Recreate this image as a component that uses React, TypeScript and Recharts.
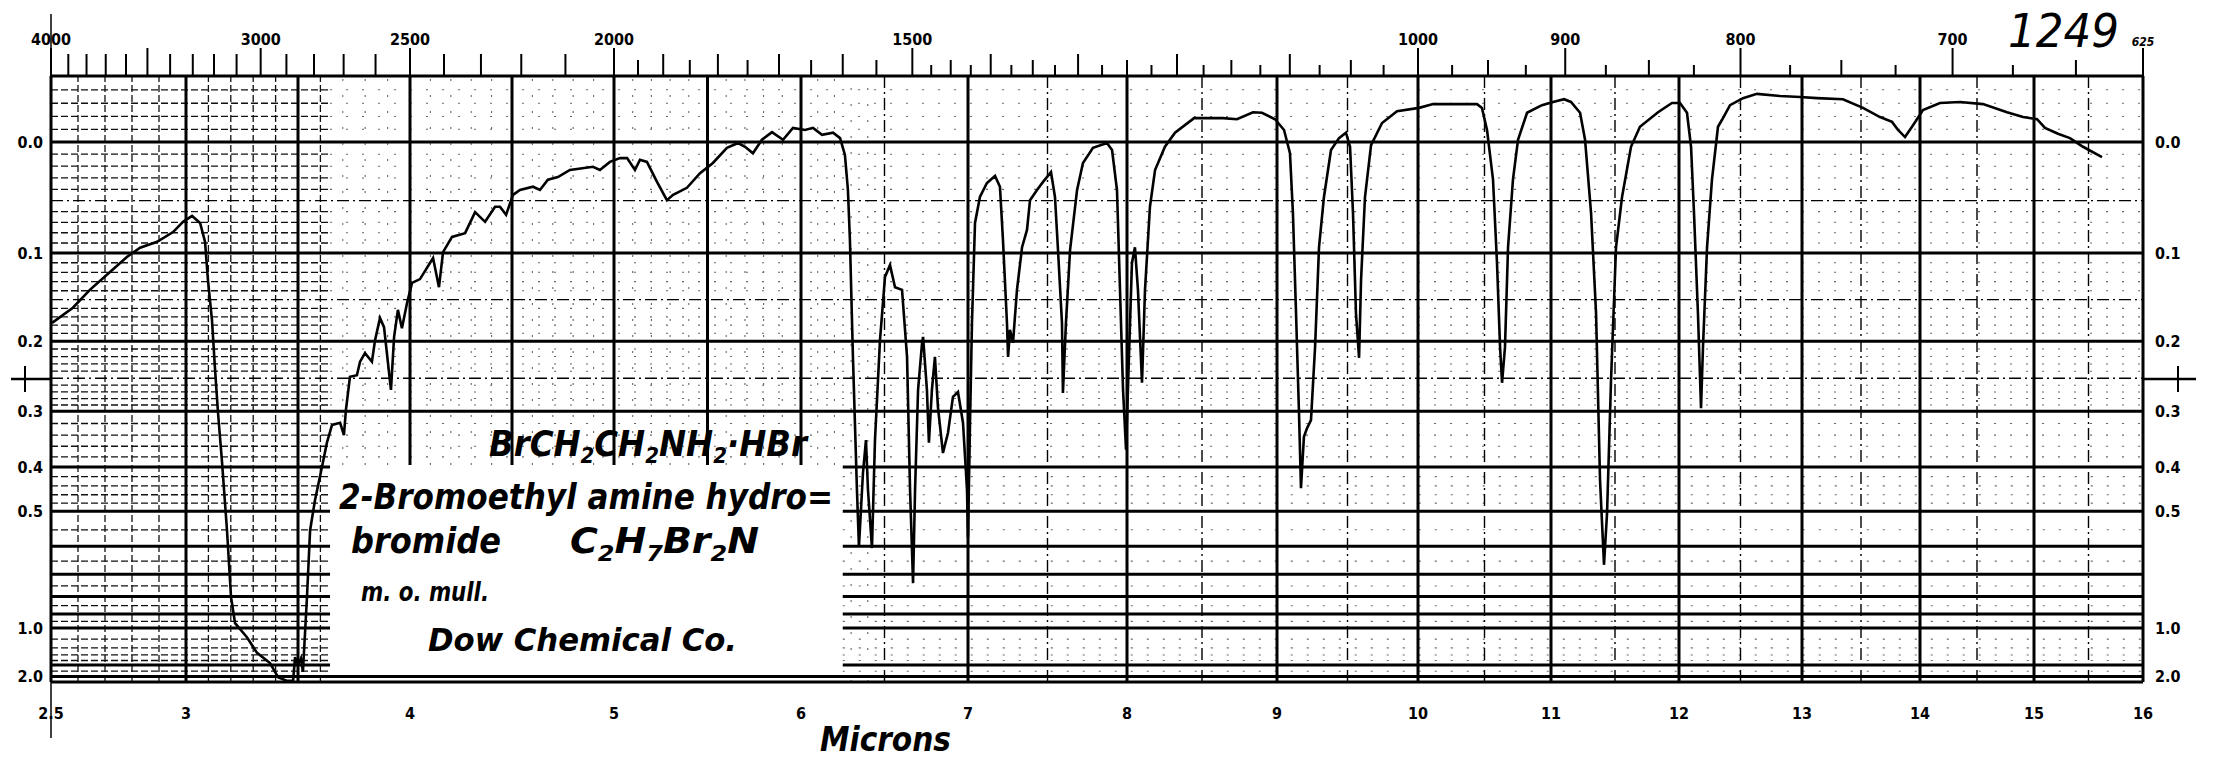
import React from 'react';
import { ComposedChart, Line, XAxis, YAxis, ReferenceLine } from 'recharts';

// ---- axis definitions ----
const MICRON_LABELS = [2.5, 3, 4, 5, 6, 7, 8, 9, 10, 11, 12, 13, 14, 15, 16];
// width of each micron interval on the paper (the abscissa is not linear)
const MICRON_SPACING = [135, 224, 204, 187, 167, 159, 150, 141, 133, 128, 123, 118, 114, 109];
const WAVENUMBER_LABELS = [4000, 3000, 2500, 2000, 1500, 1000, 900, 800, 700, 625];
const ABSORBANCE_LABELS = [0.0, 0.1, 0.2, 0.3, 0.4, 0.5, 1.0, 2.0];

const HEAVY_ABS = [0, 0.1, 0.2, 0.3, 0.4, 0.5, 0.6, 0.7, 0.8, 0.9, 1.0, 1.5, 2.0];
const DASHDOT_ABS = [0.05, 0.15, 0.25];
const FINE_ABS = [-0.04, -0.03, -0.02, -0.01, 0.01, 0.02, 0.03, 0.04, 0.06, 0.07, 0.08, 0.09,
  0.11, 0.12, 0.13, 0.14, 0.16, 0.17, 0.18, 0.19, 0.21, 0.22, 0.23, 0.24, 0.26, 0.27, 0.28, 0.29,
  0.32, 0.34, 0.36, 0.38, 0.42, 0.44, 0.46, 0.48, 0.55, 0.65, 0.75, 0.85, 0.95, 1.1, 1.2, 1.3, 1.4, 1.7];
const HEAVY_UM = [3, 3.5, 4, 4.5, 5, 5.5, 6, 7, 8, 9, 10, 11, 12, 13, 14, 15];
const DASHDOT_UM = [6.5, 7.5, 8.5, 9.5, 10.5, 11.5, 12.5, 13.5, 14.5, 15.5];

// ---- spectrum: wavelength (microns) and transmittance (%) ----
const WAVELENGTH = [
  2.504, 2.581, 2.644, 2.707, 2.781, 2.83, 2.893, 2.952, 2.989, 3.027, 3.063, 3.085, 3.098, 3.116,
  3.129, 3.143, 3.161, 3.183, 3.201, 3.219, 3.272, 3.317, 3.375, 3.411, 3.451, 3.478, 3.487, 3.5,
  3.513, 3.522, 3.54, 3.554, 3.576, 3.607, 3.629, 3.652, 3.688, 3.705, 3.714, 3.732, 3.763, 3.777,
  3.799, 3.83, 3.844, 3.866, 3.884, 3.915, 3.929, 3.946, 3.964, 3.987, 4.01, 4.049, 4.113, 4.142,
  4.162, 4.206, 4.27, 4.319, 4.368, 4.417, 4.441, 4.471, 4.505, 4.539, 4.603, 4.637, 4.676, 4.725,
  4.784, 4.897, 4.931, 4.98, 5.032, 5.07, 5.112, 5.139, 5.176, 5.23, 5.283, 5.316, 5.39, 5.46,
  5.529, 5.604, 5.663, 5.701, 5.743, 5.791, 5.845, 5.904, 5.957, 6.024, 6.072, 6.126, 6.192, 6.234,
  6.263, 6.281, 6.293, 6.311, 6.335, 6.347, 6.371, 6.389, 6.401, 6.425, 6.443, 6.473, 6.503, 6.533,
  6.563, 6.605, 6.635, 6.653, 6.671, 6.683, 6.701, 6.725, 6.731, 6.754, 6.766, 6.784, 6.802, 6.82,
  6.85, 6.88, 6.91, 6.94, 6.97, 6.994, 7.0, 7.013, 7.025, 7.044, 7.075, 7.119, 7.17, 7.201,
  7.22, 7.245, 7.252, 7.264, 7.283, 7.308, 7.34, 7.371, 7.39, 7.434, 7.472, 7.522, 7.547, 7.566,
  7.591, 7.597, 7.616, 7.642, 7.686, 7.723, 7.786, 7.874, 7.906, 7.937, 7.956, 7.975, 7.994, 8.013,
  8.033, 8.053, 8.073, 8.1, 8.12, 8.153, 8.187, 8.253, 8.32, 8.447, 8.64, 8.733, 8.84, 8.9,
  8.987, 9.05, 9.092, 9.113, 9.135, 9.156, 9.17, 9.191, 9.213, 9.241, 9.27, 9.298, 9.333, 9.383,
  9.44, 9.489, 9.518, 9.539, 9.56, 9.582, 9.596, 9.624, 9.667, 9.745, 9.851, 10.008, 10.113, 10.444,
  10.481, 10.519, 10.564, 10.594, 10.617, 10.632, 10.654, 10.677, 10.714, 10.752, 10.82, 10.932, 11.016, 11.102,
  11.156, 11.227, 11.266, 11.313, 11.352, 11.383, 11.414, 11.438, 11.469, 11.508, 11.555, 11.625, 11.695, 11.836,
  11.945, 12.008, 12.065, 12.098, 12.122, 12.154, 12.179, 12.195, 12.228, 12.268, 12.317, 12.35, 12.415, 12.52,
  12.634, 12.821, 12.984, 13.127, 13.347, 13.517, 13.661, 13.763, 13.814, 13.873, 13.941, 14.026, 14.175, 14.351,
  14.553, 14.763, 14.904, 15.028, 15.101, 15.22, 15.33, 15.45, 15.624,
];
const TRANSMITTANCE = [
  66.5, 69.3, 72.6, 75.4, 78.7, 80.4, 81.5, 83.3, 85.2, 86.3, 85.0, 81.5, 74.4, 67.0,
  58.3, 49.8, 40.6, 28.1, 15.7, 10.9, 8.3, 5.4, 3.5, 0.9, 0.2, 0.2, 4.6, 3.2,
  4.4, 1.9, 15.7, 28.1, 33.7, 39.8, 44.3, 47.6, 48.0, 45.7, 50.4, 56.5, 56.8, 59.3,
  60.9, 59.3, 63.3, 67.4, 65.7, 54.1, 63.9, 68.9, 65.5, 70.2, 73.9, 74.6, 78.5, 73.1,
  79.6, 82.4, 83.1, 87.0, 85.2, 88.0, 88.0, 86.5, 90.2, 91.1, 91.7, 91.1, 93.0, 93.5,
  94.8, 95.4, 94.8, 96.3, 97.0, 97.0, 94.8, 96.7, 96.3, 92.6, 89.2, 90.2, 91.5, 94.2,
  96.1, 98.9, 99.8, 99.1, 97.9, 100.4, 101.8, 100.4, 102.6, 102.2, 102.6, 101.3, 101.7, 100.7,
  97.6, 91.1, 81.8, 60.2, 35.6, 25.0, 38.7, 44.8, 35.6, 24.8, 44.8, 63.3, 75.0, 77.2,
  73.1, 72.6, 60.2, 35.6, 18.3, 35.6, 54.1, 62.8, 63.9, 54.1, 44.3, 54.1, 60.2, 50.9,
  42.4, 46.1, 52.8, 53.7, 48.0, 35.6, 26.7, 48.5, 66.5, 85.0, 89.8, 92.4, 93.7, 91.7,
  81.8, 66.5, 60.2, 65.2, 62.8, 72.6, 80.5, 83.7, 89.2, 91.1, 92.6, 94.4, 89.8, 80.0,
  66.5, 53.5, 66.5, 80.0, 91.1, 96.1, 98.9, 99.8, 98.5, 91.1, 72.6, 54.1, 43.0, 60.2,
  77.6, 80.5, 72.6, 55.4, 72.6, 88.0, 94.8, 99.1, 101.7, 104.4, 104.4, 104.2, 105.5, 105.4,
  104.2, 102.2, 97.9, 86.8, 68.3, 49.8, 35.9, 45.4, 47.0, 48.5, 62.0, 80.5, 89.8, 98.5,
  100.7, 101.7, 99.1, 86.8, 68.3, 60.0, 74.4, 89.8, 99.4, 103.5, 105.7, 106.3, 107.0, 107.0,
  106.3, 102.2, 93.0, 77.6, 62.0, 55.4, 62.0, 80.5, 93.0, 100.4, 105.4, 106.8, 107.4, 107.9,
  107.4, 105.4, 100.4, 86.8, 68.3, 37.4, 21.7, 31.3, 55.9, 80.5, 89.8, 99.1, 102.8, 105.5,
  107.2, 107.2, 105.4, 99.1, 86.8, 68.3, 50.7, 62.0, 80.5, 93.0, 102.8, 104.1, 106.8, 108.1,
  108.9, 108.5, 108.3, 108.1, 107.9, 106.3, 104.6, 103.7, 102.2, 100.9, 103.1, 105.9, 107.2, 107.4,
  107.0, 105.5, 104.6, 104.2, 102.6, 101.5, 100.7, 99.1, 97.2,
];

// ---- helpers ----
const warp = (um: number) => {
  let acc = 0;
  for (let i = 0; i < MICRON_SPACING.length; i++) {
    const a = MICRON_LABELS[i];
    const b = MICRON_LABELS[i + 1];
    if (um <= b || i === MICRON_SPACING.length - 1) return acc + ((um - a) / (b - a)) * MICRON_SPACING[i];
    acc += MICRON_SPACING[i];
  }
  return acc;
};
const X_MAX = warp(16);
const tOf = (a: number) => 100 * Math.pow(10, -a);
const T_MAX = tOf(-0.05);

// sample card pasted over the grid
const CARD_FROM = 3.643;
const CARD_TO = 6.25;
const CARD_TOP = 40.2;

const data = WAVELENGTH.map((um, i) => ({ x: warp(um), t: TRANSMITTANCE[i] }));

const TOP_TICKS: number[] = [];
for (let w = 4000; w > 2000; w -= 100) TOP_TICKS.push(w);
for (let w = 2000; w > 1500; w -= 50) TOP_TICKS.push(w);
for (let w = 1500; w >= 625; w -= 25) TOP_TICKS.push(w);
const TOP_TICK_POS = TOP_TICKS.map((w) => warp(10000 / w));

const nearest = (arr: number[], v: number) => {
  let best = 0;
  arr.forEach((p, i) => { if (Math.abs(p - v) < Math.abs(arr[best] - v)) best = i; });
  return best;
};

const tickLen = (w: number) => {
  if (WAVENUMBER_LABELS.includes(w)) return 28;
  if (w > 2000) return w % 500 === 0 ? 28 : 22;
  if (w % 100 === 0) return 22;
  if (w % 50 === 0) return 16;
  return 11;
};

const COND = "'DejaVu Sans Condensed', 'Liberation Sans Narrow', 'DejaVu Sans', sans-serif";
const HAND = "'DejaVu Sans', 'Liberation Sans', sans-serif";

const TopTick = (props: any) => {
  const { x, y, payload } = props;
  const w = TOP_TICKS[nearest(TOP_TICK_POS, payload.value)];
  const labelled = WAVENUMBER_LABELS.includes(w);
  return (
    <g>
      <line x1={x} x2={x} y1={y} y2={y - tickLen(w)} stroke="#000" strokeWidth={2} />
      {labelled && (
        <text
          x={x}
          y={w === 625 ? 46 : 45}
          textAnchor="middle"
          fontFamily={COND}
          fontWeight="bold"
          fontStyle={w === 625 ? 'italic' : 'normal'}
          fontSize={w === 625 ? 12 : 16}
          fill="#000"
        >
          {w}
        </text>
      )}
    </g>
  );
};

const HEAVY = { stroke: '#000', strokeWidth: 3 };
const DASHDOT = { stroke: '#000', strokeWidth: 1.4, strokeDasharray: '12 4 2 4' };
const DENSE = { stroke: '#111', strokeWidth: 1.3, strokeDasharray: '7 3' };
const LIGHT = { stroke: '#666', strokeWidth: 1.1, strokeDasharray: '2 14' };

let k = 0;
const seg = (x1: number, y1: number, x2: number, y2: number, style: any) => (
  <ReferenceLine
    key={`g${k++}`}
    xAxisId="b"
    yAxisId="l"
    segment={[{ x: warp(x1), y: y1 }, { x: warp(x2), y: y2 }]}
    ifOverflow="visible"
    {...style}
  />
);

const grid: React.ReactNode[] = [];
FINE_ABS.forEach((a) => {
  const t = tOf(a);
  grid.push(seg(2.5, t, CARD_FROM, t, DENSE));
  grid.push(seg(t > CARD_TOP ? CARD_FROM : CARD_TO, t, 16, t, LIGHT));
});
for (let i = 26; i < 65; i++) {
  const um = i / 10;
  if (HEAVY_UM.includes(um)) continue;
  if (um < CARD_FROM) grid.push(seg(um, 0, um, T_MAX, DENSE));
  else if (um < CARD_TO) grid.push(seg(um, CARD_TOP, um, T_MAX, LIGHT));
  else grid.push(seg(um, 0, um, T_MAX, LIGHT));
}
DASHDOT_ABS.forEach((a) => grid.push(seg(2.5, tOf(a), 16, tOf(a), DASHDOT)));
DASHDOT_UM.forEach((um) => grid.push(seg(um, 0, um, T_MAX, DASHDOT)));
HEAVY_ABS.forEach((a) => {
  const t = tOf(a);
  if (a >= 0.4 && a < 2) {
    grid.push(seg(2.5, t, CARD_FROM, t, HEAVY));
    grid.push(seg(CARD_TO, t, 16, t, HEAVY));
  } else grid.push(seg(2.5, t, 16, t, HEAVY));
});
HEAVY_UM.forEach((um) => {
  if (um > CARD_FROM && um < CARD_TO) grid.push(seg(um, CARD_TOP, um, T_MAX, HEAVY));
  else grid.push(seg(um, 0, um, T_MAX, HEAVY));
});

const absTicks = ABSORBANCE_LABELS.map(tOf);
const absLabel = (v: number) => ABSORBANCE_LABELS[nearest(absTicks, v)].toFixed(1);
const micronTicks = MICRON_LABELS.map(warp);
const micronLabel = (v: number) => String(MICRON_LABELS[nearest(micronTicks, v)]);

const tickStyle = { fontFamily: COND, fontWeight: 'bold', fontSize: 16, fill: '#000' };
const axisStyle = { stroke: '#000', strokeWidth: 3 };

export default function App() {
  return (
    <div style={{ position: 'absolute', left: 0, top: 0, width: 2224, height: 767, background: '#fff' }}>
      <ComposedChart
        width={2224}
        height={767}
        data={data}
        margin={{ top: 36, right: 0, bottom: 45, left: 0 }}
      >
        <XAxis
          xAxisId="b"
          dataKey="x"
          type="number"
          domain={[0, X_MAX]}
          allowDataOverflow
          ticks={micronTicks}
          interval={0}
          tickFormatter={micronLabel}
          height={40}
          tickSize={0}
          tickLine={false}
          tickMargin={26}
          axisLine={axisStyle}
          tick={tickStyle}
        />
        <XAxis
          xAxisId="t"
          orientation="top"
          dataKey="x"
          type="number"
          domain={[0, X_MAX]}
          allowDataOverflow
          ticks={TOP_TICK_POS}
          interval={0}
          height={40}
          tickSize={0}
          tickMargin={0}
          tickLine={false}
          axisLine={axisStyle}
          tick={(p: any) => <TopTick {...p} />}
        />
        <YAxis
          yAxisId="l"
          type="number"
          domain={[0, T_MAX]}
          allowDataOverflow
          ticks={absTicks}
          interval={0}
          tickFormatter={absLabel}
          width={51}
          tickSize={0}
          tickLine={false}
          tickMargin={8}
          axisLine={axisStyle}
          tick={tickStyle}
        />
        <YAxis
          yAxisId="r"
          orientation="right"
          type="number"
          domain={[0, T_MAX]}
          allowDataOverflow
          ticks={absTicks}
          interval={0}
          tickFormatter={absLabel}
          width={81}
          tickSize={0}
          tickLine={false}
          tickMargin={12}
          axisLine={axisStyle}
          tick={tickStyle}
        />
        {grid}
        <Line
          xAxisId="b"
          yAxisId="l"
          dataKey="t"
          type="linear"
          stroke="#000"
          strokeWidth={2.6}
          dot={false}
          activeDot={false}
          isAnimationActive={false}
        />
      </ComposedChart>
      <svg
        width={2224}
        height={767}
        style={{ position: 'absolute', left: 0, top: 0, pointerEvents: 'none' }}
      >
        {/* border extensions and registration marks */}
        <line x1={51} x2={51} y1={14} y2={76} stroke="#000" strokeWidth={1.5} />
        <line x1={51} x2={51} y1={682} y2={738} stroke="#000" strokeWidth={1.5} />
        <line x1={11} x2={51} y1={379} y2={379} stroke="#000" strokeWidth={2.5} />
        <line x1={25} x2={25} y1={366} y2={392} stroke="#000" strokeWidth={2} />
        <line x1={2143} x2={2196} y1={379} y2={379} stroke="#000" strokeWidth={2.5} />
        <line x1={2178} x2={2178} y1={366} y2={392} stroke="#000" strokeWidth={2} />
        <text x={2008} y={47} fontFamily={HAND} fontSize={46} fontStyle="italic" fontWeight={200}
          textLength={111} lengthAdjust="spacingAndGlyphs" fill="#000">1249</text>
        <g fontFamily={COND} fontStyle="italic" fontWeight="bold" fill="#000">
          <text x={489} y={456} fontSize={36} textLength={318} lengthAdjust="spacingAndGlyphs">
            BrCH<tspan dy={7} fontSize={22}>2</tspan><tspan dy={-7}>CH</tspan>
            <tspan dy={7} fontSize={22}>2</tspan><tspan dy={-7}>NH</tspan>
            <tspan dy={7} fontSize={22}>2</tspan><tspan dy={-7}>·HBr</tspan>
          </text>
          <text x={339} y={509} fontSize={35} textLength={494} lengthAdjust="spacingAndGlyphs">
            2-Bromoethyl amine hydro=
          </text>
          <text x={351} y={553} fontSize={35} textLength={150} lengthAdjust="spacingAndGlyphs">bromide</text>
          <text x={570} y={553} fontSize={35} textLength={189} lengthAdjust="spacingAndGlyphs">
            C<tspan dy={8} fontSize={22}>2</tspan><tspan dy={-8}>H</tspan>
            <tspan dy={8} fontSize={22}>7</tspan><tspan dy={-8}>Br</tspan>
            <tspan dy={8} fontSize={22}>2</tspan><tspan dy={-8}>N</tspan>
          </text>
          <text x={361} y={601} fontSize={26} textLength={128} lengthAdjust="spacingAndGlyphs">m. o. mull.</text>
          <text x={428} y={651} fontSize={32} textLength={309} lengthAdjust="spacingAndGlyphs">Dow Chemical Co.</text>
          <text x={820} y={751} fontSize={34} textLength={131} lengthAdjust="spacingAndGlyphs">Microns</text>
        </g>
      </svg>
    </div>
  );
}
